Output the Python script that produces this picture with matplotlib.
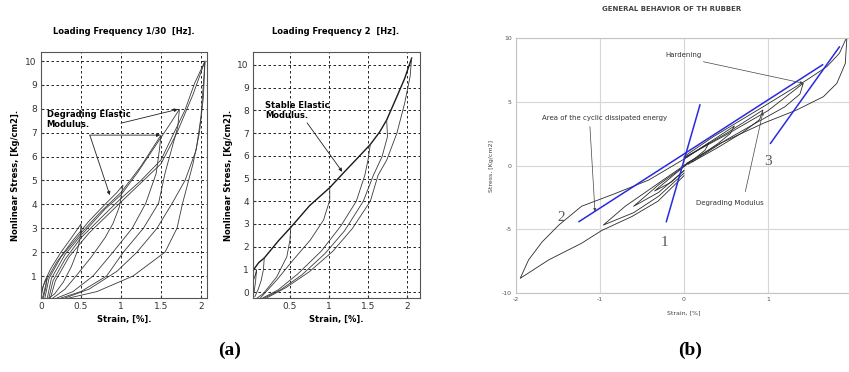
import numpy as np
import matplotlib.pyplot as plt

W, H = 849, 372

# ---- (a) left: loading frequency 1/30 Hz, closed loops (loading then unloading)
slow_x = [
    [0.0, 0.03, 0.07, 0.06, 0.03],
    [0.0, 0.05, 0.12, 0.25, 0.38, 0.5, 0.49, 0.45, 0.38, 0.28, 0.17, 0.1],
    [0.02, 0.08, 0.2, 0.4, 0.6, 0.8, 0.95, 1.025, 1.0, 0.98, 0.9, 0.8, 0.63, 0.45, 0.3, 0.15],
    [0.05, 0.1, 0.25, 0.5, 0.75, 1.0, 1.25, 1.5, 1.48, 1.44, 1.31, 1.14, 0.9, 0.65, 0.4, 0.2],
    [0.08, 0.13, 0.3, 0.5, 0.8, 1.0, 1.2, 1.42, 1.6, 1.73, 1.71, 1.63, 1.55, 1.47, 1.28, 1.03,
     0.82, 0.5, 0.25],
    [0.1, 0.15, 0.3, 0.5, 0.8, 1.0, 1.25, 1.5, 1.62, 1.8, 1.92, 2.05, 2.0, 1.94, 1.8, 1.64,
     1.45, 1.2, 0.95, 0.6, 0.3],
    [0.12, 0.18, 0.35, 0.6, 1.0, 1.5, 1.7, 1.9, 2.05, 2.03, 1.98, 1.9, 1.77, 1.7, 1.55, 1.15,
     0.7, 0.35],
]
slow_y = [
    [0.1, 0.6, 0.9, 0.5, 0.1],
    [0.3, 0.8, 1.3, 2.0, 2.6, 3.18, 2.6, 2.0, 1.4, 0.75, 0.25, 0.08],
    [0.1, 0.9, 1.6, 2.5, 3.3, 4.0, 4.5, 4.81, 4.3, 3.9, 3.2, 2.6, 1.8, 1.05, 0.45, 0.08],
    [0.1, 0.9, 1.8, 2.8, 3.7, 4.5, 5.6, 6.9, 6.28, 5.3, 4.05, 3.0, 2.0, 1.0, 0.35, 0.08],
    [0.1, 0.9, 1.9, 2.7, 3.8, 4.4, 5.3, 6.4, 7.3, 7.98, 7.25, 6.28, 5.3, 4.05, 3.0, 2.0,
     1.0, 0.35, 0.08],
    [0.1, 0.8, 1.7, 2.6, 3.6, 4.25, 5.0, 5.86, 6.7, 7.95, 9.07, 10.0, 7.67, 6.28, 5.0, 4.05,
     3.0, 2.0, 1.2, 0.45, 0.08],
    [0.1, 0.8, 1.8, 2.8, 4.1, 5.7, 7.0, 8.6, 10.0, 8.5, 7.0, 5.7, 4.05, 3.0, 2.0, 1.0,
     0.35, 0.08],
]

# ---- (a) right: loading frequency 2 Hz, common loading envelope + unloading branches
fast_env_x = [0.03, 0.03, 0.1, 0.17, 0.35, 0.51, 0.75, 1.01, 1.2, 1.38, 1.53, 1.65, 1.74,
              1.87, 1.97, 2.06]
fast_env_y = [0.2, 0.97, 1.3, 1.5, 2.25, 2.85, 3.8, 4.6, 5.3, 5.95, 6.5, 7.05, 7.58,
              8.6, 9.4, 10.3]
fast_unload_x = [
    [0.03, 0.06, 0.07, 0.06, 0.04],
    [0.17, 0.16, 0.13, 0.09, 0.05],
    [0.51, 0.5, 0.46, 0.33, 0.16, 0.08],
    [1.01, 1.01, 0.93, 0.76, 0.54, 0.33, 0.12],
    [1.53, 1.5, 1.46, 1.35, 1.15, 0.9, 0.6, 0.35, 0.15],
    [1.74, 1.75, 1.68, 1.57, 1.44, 1.2, 0.95, 0.65, 0.38, 0.17],
    [2.06, 2.04, 1.97, 1.87, 1.74, 1.63, 1.53, 1.3, 1.05, 0.75, 0.45, 0.2],
]
fast_unload_y = [
    [0.5, 0.8, 0.95, 0.5, 0.0],
    [1.5, 1.0, 0.5, 0.1, -0.2],
    [2.85, 2.3, 1.56, 0.67, -0.06, -0.26],
    [4.6, 4.05, 3.17, 2.29, 1.41, 0.53, -0.26],
    [6.5, 5.81, 5.15, 4.0, 2.9, 1.8, 0.8, 0.1, -0.26],
    [7.58, 6.84, 5.96, 5.15, 4.0, 2.7, 1.7, 0.75, 0.1, -0.26],
    [10.3, 9.49, 8.31, 6.99, 5.81, 5.15, 4.0, 2.8, 1.8, 0.9, 0.2, -0.26],
]

# ---- (b): general behavior, loops on both sides of the origin
rubber_x = [
    [0.0, 0.35, 0.94, 1.46, 1.7, 1.85, 1.94, 1.92, 1.82, 1.66, 1.34, 0.94, 0.43, 0.03],
    [0.0, 0.5, 1.0, 1.42, 1.38, 1.2, 0.9, 0.5, 0.1],
    [0.0, 0.5, 0.94, 0.9, 0.7, 0.4, 0.05],
    [0.0, 0.3, 0.6, 0.55, 0.4, 0.2, 0.0],
    [0.0, 0.3, 0.25, 0.1, 0.0],
    [0.0, -0.42, -0.82, -1.22, -1.49, -1.69, -1.85, -1.95, -1.61, -1.22, -0.98, -0.62, -0.31, 0.0],
    [0.0, -0.35, -0.7, -0.96, -0.6, -0.3, 0.0],
    [0.1, -0.3, -0.6, -0.3, 0.0],
    [0.05, -0.15, -0.35, -0.15, 0.0],
]
rubber_y = [
    [0.7, 2.26, 4.6, 6.7, 7.75, 8.8, 10.1, 8.0, 6.45, 5.4, 4.35, 3.3, 1.74, 0.17],
    [0.6, 2.4, 4.3, 6.45, 5.6, 4.6, 3.5, 2.0, 0.3],
    [0.6, 2.5, 4.35, 3.6, 2.6, 1.4, 0.1],
    [0.5, 1.8, 3.1, 2.5, 1.7, 0.8, 0.0],
    [0.5, 1.8, 1.2, 0.4, 0.0],
    [0.5, -1.14, -2.2, -3.2, -4.67, -6.0, -7.4, -8.85, -7.4, -6.1, -5.1, -4.0, -2.8, -0.8],
    [0.0, -1.6, -3.2, -4.67, -3.7, -2.4, -0.6],
    [0.4, -1.5, -3.2, -2.1, -0.4],
    [0.2, -0.9, -2.0, -1.3, -0.4],
]
modulus_x = [[-0.21, 0.19], [-1.25, 1.65], [1.03, 1.85]]
modulus_y = [[-4.4, 4.75], [-4.4, 7.9], [1.74, 9.3]]
modulus_ids = ["1", "2", "3"]

plt.rcParams["axes.unicode_minus"] = False


def box(l, t, r, b):
    return [l / W, 1 - b / H, (r - l) / W, (b - t) / H]


def style_matlab(ax):
    ax.grid(True, color="black", linestyle=(0, (3, 3)), linewidth=0.6)
    for s in ax.spines.values():
        s.set_color("#555555")
        s.set_linewidth(0.8)
    ax.tick_params(direction="in", length=2, labelsize=6.5, colors="#333333", pad=3)


arrow = dict(arrowstyle="-|>", color="#222222", lw=0.6, mutation_scale=5, shrinkA=0, shrinkB=0)

fig = plt.figure(figsize=(W / 100, H / 100), dpi=100)

# ---------- slow loading
ax1 = fig.add_axes(box(41, 52, 207, 298))
for x, y in zip(slow_x, slow_y):
    ax1.plot(x, y, color="#3a3a3a", lw=0.6)
ax1.set_xlim(0, 2.075)
ax1.set_ylim(0.08, 10.38)
ax1.set_xticks([0, 0.5, 1, 1.5, 2], ["0", "0.5", "1", "1.5", "2"])
ax1.set_yticks(range(1, 11))
style_matlab(ax1)
ax1.text(0.07, 7.55, "Degrading Elastic\nModulus.", fontsize=6, fontweight="bold",
         va="center", linespacing=1.1)
ax1.annotate("", xy=(1.49, 6.9), xytext=(0.61, 6.9), arrowprops=arrow)
ax1.annotate("", xy=(0.86, 4.39), xytext=(0.61, 6.9), arrowprops=arrow)
ax1.annotate("", xy=(1.71, 7.98), xytext=(1.0, 7.4), arrowprops=arrow)
ax1.set_xlabel("Strain, [%].", fontsize=6, fontweight="bold", labelpad=3)
ax1.set_ylabel("Nonlinear Stress, [Kg/cm2].", fontsize=6, fontweight="bold", labelpad=4)
fig.text(124 / W, 1 - 31 / H, "Loading Frequency 1/30  [Hz].", fontsize=6, fontweight="bold",
         ha="center", va="center")

# ---------- fast loading
ax2 = fig.add_axes(box(253, 52, 420, 298))
ax2.plot(fast_env_x, fast_env_y, color="#1a1a1a", lw=1.0)
for x, y in zip(fast_unload_x, fast_unload_y):
    ax2.plot(x, y, color="#3a3a3a", lw=0.6)
ax2.set_xlim(0.026, 2.167)
ax2.set_ylim(-0.26, 10.57)
ax2.set_xticks([0.5, 1, 1.5, 2], ["0.5", "1", "1.5", "2"])
ax2.set_yticks(range(0, 11))
style_matlab(ax2)
ax2.text(0.18, 8.0, "Stable Elastic\nModulus.", fontsize=6, fontweight="bold",
         va="center", linespacing=1.1)
ax2.annotate("", xy=(1.17, 5.3), xytext=(0.72, 7.45), arrowprops=arrow)
ax2.set_xlabel("Strain, [%].", fontsize=6, fontweight="bold", labelpad=3)
ax2.set_ylabel("Nonlinear Stress, [Kg/cm2].", fontsize=6, fontweight="bold", labelpad=3)
fig.text(336 / W, 1 - 31 / H, "Loading Frequency 2  [Hz].", fontsize=6, fontweight="bold",
         ha="center", va="center")

# ---------- general behaviour
ax3 = fig.add_axes(box(516, 38, 852, 293))
for x, y in zip(rubber_x, rubber_y):
    ax3.plot(x, y, color="#2a2a2a", lw=0.6)
for x, y in zip(modulus_x, modulus_y):
    ax3.plot(x, y, color="#2a2ae0", lw=1.1)
ax3.set_xlim(-2, 2)
ax3.set_ylim(-10, 10)
ax3.set_xticks([-2, -1, 0, 1])
ax3.set_yticks([-10, -5, 0, 5, 10])
ax3.grid(True, color="#d6d6d6", lw=0.8)
for s in ax3.spines.values():
    s.set_color("#c4c4c4")
ax3.tick_params(length=0, labelsize=4.5, colors="#555555", pad=3)
lab_pos = [(-0.23, -6.0), (-1.46, -4.1), (1.0, 0.3)]
for (px, py), t in zip(lab_pos, modulus_ids):
    ax3.text(px, py, t, fontsize=11, family="Liberation Serif", color="#555555",
             ha="center", va="center")
thin = dict(arrowstyle="-|>", color="#444444", lw=0.5, mutation_scale=4, shrinkA=0, shrinkB=0)
ax3.text(0.0, 8.67, "Hardening", fontsize=5, ha="center", va="center", color="#333333")
ax3.annotate("", xy=(1.42, 6.45), xytext=(0.23, 8.14), arrowprops=thin)
ax3.text(-0.94, 3.7, "Area of the cyclic dissipated energy", fontsize=5, ha="center",
         va="center", color="#333333")
ax3.annotate("", xy=(-1.06, -3.6), xytext=(-1.12, 3.05), arrowprops=thin)
ax3.text(0.55, -2.96, "Degrading Modulus", fontsize=5, ha="center", va="center",
         color="#333333")
ax3.annotate("", xy=(0.94, 4.2), xytext=(0.73, -2.05), arrowprops=thin)
ax3.set_xlabel("Strain, [%]", fontsize=4.5, color="#444444", labelpad=6)
ax3.set_ylabel("Stress, [Kg/cm2]", fontsize=4.5, color="#444444", labelpad=6)
fig.text(672 / W, 1 - 9 / H, "GENERAL BEHAVIOR OF TH RUBBER", fontsize=5, fontweight="bold",
         ha="center", va="center", color="#444444")

# panel letters
for px, t in [(230, "(a)"), (690, "(b)")]:
    fig.text(px / W, 1 - 350 / H, t, fontsize=14, fontweight="bold",
             family="Liberation Serif", ha="center", va="center")

fig.savefig("out.png", dpi=100)
